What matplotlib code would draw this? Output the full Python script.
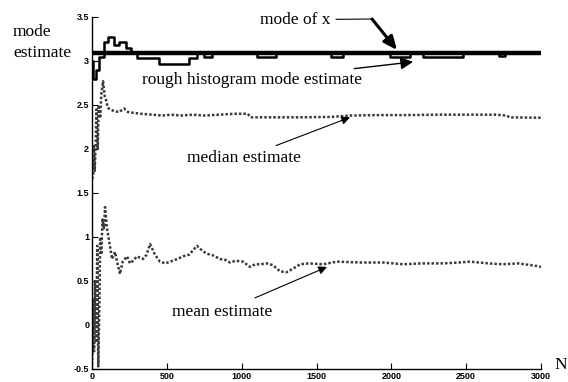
import matplotlib
matplotlib.use("Agg")
import matplotlib.pyplot as plt

# ---- data ----
mode_value = 3.09
x_range = [0, 3000]

hist_N = [1, 10, 30, 50, 80, 110, 150, 180, 230, 260, 300, 450, 650, 700, 750, 800,
          1100, 1230, 1600, 1680, 1990, 2125, 2210, 2480, 2720, 2760, 3000]
hist_v = [3.0, 2.8, 2.9, 3.05, 3.22, 3.27, 3.18, 3.22, 3.15, 3.09, 3.03, 2.97, 3.03, 3.09, 3.05, 3.09,
          3.05, 3.09, 3.05, 3.09, 3.05, 3.09, 3.05, 3.09, 3.06, 3.09, 3.09]

median_N = [1, 8, 12, 18, 25, 30, 38, 45, 55, 62, 74, 85, 95, 105, 120, 150, 180, 215, 240,
            280, 330, 400, 470, 530, 600, 675, 750, 850, 950, 1040, 1060, 1200, 1400, 1600,
            1724, 1900, 2100, 2300, 2500, 2700, 2770, 2790, 3000]
median_v = [1.66, 1.7, 2.05, 1.75, 2.1, 2.45, 2.0, 2.5, 2.35, 2.62, 2.77, 2.6, 2.55, 2.47, 2.45,
            2.43, 2.42, 2.46, 2.42, 2.41, 2.40, 2.39, 2.38, 2.39, 2.38, 2.39, 2.38, 2.39, 2.40,
            2.40, 2.36, 2.36, 2.36, 2.365, 2.38, 2.385, 2.385, 2.39, 2.39, 2.39, 2.38, 2.36, 2.355]

mean_N = [1, 8, 14, 20, 28, 35, 42, 50, 55, 62, 70, 80, 87, 100, 115, 134, 154, 170, 187, 205,
          234, 254, 274, 300, 341, 365, 388, 420, 454, 490, 521, 570, 608, 650, 701, 740, 768,
          810, 855, 890, 922, 960, 1009, 1056, 1090, 1122, 1170, 1209, 1256, 1300, 1343, 1390,
          1450, 1543, 1637, 1800, 1950, 2078, 2200, 2345, 2450, 2525, 2650, 2746, 2850, 2973, 3000]
mean_v = [-0.45, 0.3, -0.3, 0.5, -0.2, 0.9, -0.47, 0.3, 1.0, 0.8, 1.2, 1.1, 1.34, 1.1, 0.95,
          0.75, 0.83, 0.7, 0.58, 0.72, 0.78, 0.7, 0.73, 0.78, 0.75, 0.8, 0.92, 0.8, 0.72, 0.70,
          0.72, 0.75, 0.78, 0.80, 0.90, 0.84, 0.81, 0.79, 0.75, 0.74, 0.71, 0.73, 0.72, 0.66,
          0.69, 0.69, 0.70, 0.68, 0.61, 0.60, 0.64, 0.69, 0.70, 0.69, 0.72, 0.71, 0.71, 0.69,
          0.70, 0.70, 0.71, 0.72, 0.70, 0.69, 0.70, 0.67, 0.66]

x_ticks = [0, 500, 1000, 1500, 2000, 2500, 3000]
y_ticks = [-0.5, 0, 0.5, 1, 1.5, 2, 2.5, 3, 3.5]
y_ticklabels = ['-0.5', '0', '0.5', '1', '1.5', '2', '2.5', '3', '3.5']

# ---- figure ----
fig = plt.figure(figsize=(5.68, 3.82), dpi=100)
ax = fig.add_axes([92/568, 13/382, 449/568, 352/382])

gray = '#3a3a3a'
ax.plot(mean_N, mean_v, color=gray, ls=(0, (1, 0.8)), lw=1.8)
ax.plot(median_N, median_v, color=gray, ls=(0, (1, 0.8)), lw=1.8)
ax.plot(x_range, [mode_value, mode_value], color='black', lw=3.2, solid_capstyle='butt')
ax.step(hist_N, hist_v, where='post', color='black', lw=1.8)

ax.set_xlim(0, 3000)
ax.set_ylim(-0.5, 3.5)
for s in ['top', 'right']:
    ax.spines[s].set_visible(False)
for s in ['left', 'bottom']:
    ax.spines[s].set_linewidth(1.0)
ax.set_xticks(x_ticks)
ax.set_xticklabels([str(t) for t in x_ticks])
ax.set_yticks(y_ticks)
ax.set_yticklabels(y_ticklabels)
ax.tick_params(direction='in', length=4, width=0.8, pad=2)
for lab in ax.get_xticklabels() + ax.get_yticklabels():
    lab.set_fontfamily('Liberation Sans')
    lab.set_fontweight('bold')
    lab.set_fontsize(6.5)

serif = 'Liberation Serif'
fs = 12.5
# annotations
ax.annotate('mode of x', xy=(1871, 3.477), xytext=(1122, 3.47), fontsize=fs,
            family=serif, va='center', ha='left',
            arrowprops=dict(arrowstyle='-', color='black', lw=0.8, shrinkA=2, shrinkB=0))
ax.annotate('', xy=(2038, 3.125), xytext=(1871, 3.477),
            arrowprops=dict(arrowstyle='-|>,head_length=0.8,head_width=0.35', color='black',
                            lw=2.2, shrinkA=0, shrinkB=0))
ax.annotate('rough histogram mode estimate', xy=(2145, 2.99), xytext=(334, 2.78),
            fontsize=fs, family=serif, va='center', ha='left',
            arrowprops=dict(arrowstyle='-|>,head_length=0.6,head_width=0.3', color='black',
                            lw=1.0, shrinkA=6, shrinkB=0))
ax.annotate('median estimate', xy=(1724, 2.36), xytext=(635, 1.90),
            fontsize=fs, family=serif, va='center', ha='left',
            arrowprops=dict(arrowstyle='-|>,head_length=0.4,head_width=0.2', color='black',
                            lw=0.8, shrinkA=3, shrinkB=0))
ax.annotate('mean estimate', xy=(1570, 0.66), xytext=(535, 0.148),
            fontsize=fs, family=serif, va='center', ha='left',
            arrowprops=dict(arrowstyle='-|>,head_length=0.4,head_width=0.2', color='black',
                            lw=0.8, shrinkA=6, shrinkB=0))

fig.text(13/568, 1 - 32/382, 'mode', fontsize=fs, family=serif, va='center', ha='left')
fig.text(13/568, 1 - 53/382, 'estimate', fontsize=fs, family=serif, va='center', ha='left')
fig.text(554/568, 1 - 365/382, 'N', fontsize=fs, family=serif, va='center', ha='left')

fig.savefig('out.png', dpi=100)
